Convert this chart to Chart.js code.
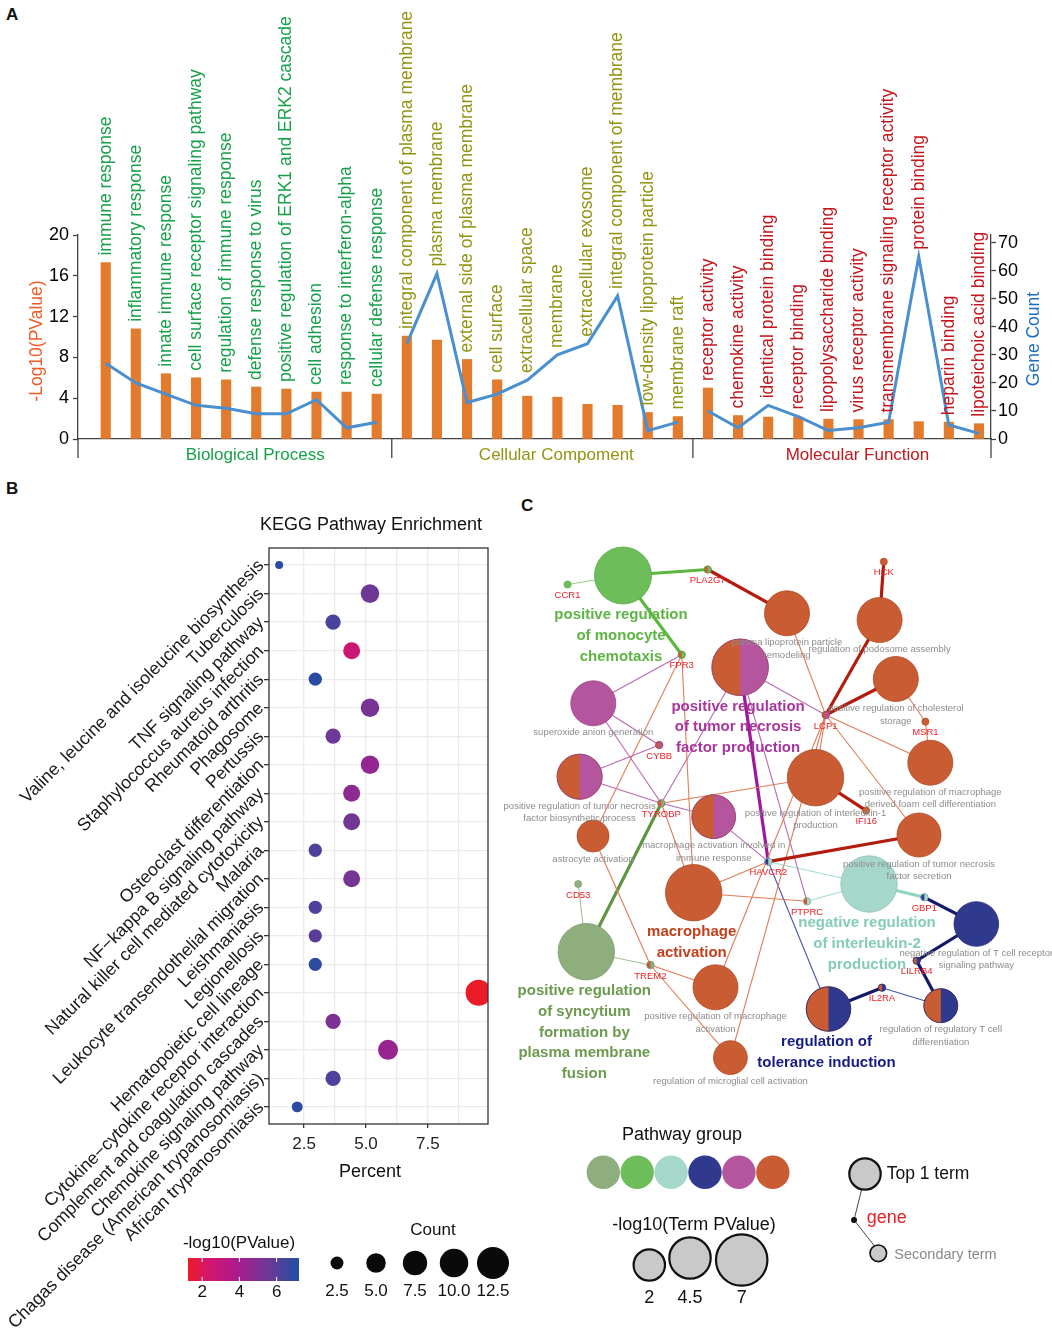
<!DOCTYPE html>
<html>
<head>
<meta charset="utf-8">
<title>GO / KEGG enrichment</title>
<script src="https://cdn.jsdelivr.net/npm/chart.js@4.4.1/dist/chart.umd.min.js"></script>
<style>
  html, body { margin: 0; padding: 0; background: #fff; }
  body { position: relative; width: 1052px; height: 1339px; overflow: hidden;
         font-family: "Liberation Sans", Arial, sans-serif; }
  canvas { position: absolute; }
  .tag { position: absolute; font-weight: bold; font-size: 17px; color: #111; }
</style>
</head>
<body>
<div class="tag" style="left:6px;top:5px">A</div>
<div class="tag" style="left:6px;top:479px">B</div>
<div class="tag" style="left:521px;top:496px">C</div>
<canvas id="goChart" width="1052" height="475" style="left:0;top:0"></canvas>
<canvas id="keggChart" width="520" height="859" style="left:0;top:480px"></canvas>
<canvas id="netChart" width="557" height="799" style="left:495px;top:540px"></canvas>
<script>
const FONT = '"Liberation Sans", Arial, Helvetica, sans-serif';
Chart.defaults.font.family = FONT;
Chart.defaults.animation = false;
Chart.defaults.events = [];
Chart.defaults.plugins.legend.display = false;
Chart.defaults.plugins.tooltip.enabled = false;

// ---------------- A : GO terms ----------------
const goTerms = [
  'immune response', 'inflammatory response', 'innate immune response',
  'cell surface receptor signaling pathway', 'regulation of immune response',
  'defense response to virus', 'positive regulation of ERK1 and ERK2 cascade',
  'cell adhesion', 'response to interferon-alpha', 'cellular defense response',
  'integral component of plasma membrane', 'plasma membrane', 'external side of plasma membrane',
  'cell surface', 'extracellular space', 'membrane', 'extracellular exosome',
  'integral component of membrane', 'low-density lipoprotein particle', 'membrane raft',
  'receptor activity', 'chemokine activity', 'identical protein binding', 'receptor binding',
  'lipopolysaccharide binding', 'virus receptor activity',
  'transmembrane signaling receptor activity', 'protein binding', 'heparin binding',
  'lipoteichoic acid binding'
];
const goCategories = ['Biological Process', 'Cellular Compoment', 'Molecular Function'];
const goCategorySize = [10, 10, 10];
const goLogP = [17.3, 10.8, 6.4, 6.0, 5.8, 5.1, 4.9, 4.6, 4.6, 4.4,
                10.1, 9.7, 7.8, 5.8, 4.2, 4.1, 3.4, 3.3, 2.6, 2.2,
                5.0, 2.3, 2.15, 2.15, 1.95, 1.9, 1.9, 1.7, 1.65, 1.5];
const goGeneCount = [27, 20, 16, 12, 11, 9, 9, 14, 4, 6,
                     34, 59, 13, 16, 21, 30, 34, 51, 3, 6,
                     10, 4, 12, 8, 3, 4, 6, 65, 5, 2];
const goPTicks = [0, 4, 8, 12, 16, 20];
const goCountTicks = [0, 10, 20, 30, 40, 50, 60, 70];

const goTextColors = ['#17a04a', '#939313', '#c3161c'];

const catStart = [];
let acc = 0;
goCategorySize.forEach(n => { catStart.push(acc); acc += n; });
function catOf(i) {
  let k = 0;
  while (k + 1 < catStart.length && i >= catStart[k + 1]) k++;
  return k;
}

const countLines = goCategories.map((c, k) => ({
  type: 'line',
  label: c,
  yAxisID: 'yCount',
  data: goGeneCount.slice(catStart[k], catStart[k] + goCategorySize[k])
    .map((v, j) => ({ x: catStart[k] + j, y: v })),
  borderColor: '#4a8fd0',
  borderWidth: 3,
  pointRadius: 0,
  tension: 0,
  order: 0
}));

const goDecor = {
  id: 'goDecor',
  afterDraw(chart) {
    const { ctx, chartArea: a, scales } = chart;
    const x = scales.x, yP = scales.yP, yC = scales.yCount;
    ctx.save();
    // axis stubs under the baseline and group dividers
    ctx.strokeStyle = '#444';
    ctx.lineWidth = 1.3;
    const stubs = [a.left, a.right];
    for (let k = 1; k < catStart.length; k++) {
      stubs.push((x.getPixelForValue(catStart[k] - 1) + x.getPixelForValue(catStart[k])) / 2);
    }
    stubs.forEach(px => {
      ctx.beginPath(); ctx.moveTo(px, a.bottom); ctx.lineTo(px, a.bottom + 19); ctx.stroke();
    });
    // rotated term names above each bar / line point
    ctx.font = '17.5px ' + FONT;
    ctx.textAlign = 'left';
    ctx.textBaseline = 'middle';
    goTerms.forEach((t, i) => {
      const top = Math.min(yP.getPixelForValue(goLogP[i]), yC.getPixelForValue(goGeneCount[i]));
      ctx.save();
      ctx.translate(x.getPixelForValue(i), top - 7);
      ctx.rotate(-Math.PI / 2);
      ctx.fillStyle = goTextColors[catOf(i)];
      ctx.fillText(t, 0, 0);
      ctx.restore();
    });
    // category names
    ctx.font = '17px ' + FONT;
    ctx.textAlign = 'center';
    goCategories.forEach((c, k) => {
      const mid = (x.getPixelForValue(catStart[k]) + x.getPixelForValue(catStart[k] + goCategorySize[k] - 1)) / 2;
      ctx.fillStyle = goTextColors[k];
      ctx.fillText(c, mid + 14, a.bottom + 16);
    });
    // axis titles
    ctx.font = '17.5px ' + FONT;
    const midY = (a.top + a.bottom) / 2;
    ctx.save(); ctx.translate(37, midY + 4); ctx.rotate(-Math.PI / 2);
    ctx.fillStyle = '#ef5a26'; ctx.fillText('-Log10(PValue)', 0, 0); ctx.restore();
    ctx.save(); ctx.translate(1034, midY + 2); ctx.rotate(-Math.PI / 2);
    ctx.fillStyle = '#1f6fc0'; ctx.fillText('Gene Count', 0, 0); ctx.restore();
    ctx.restore();
  }
};

new Chart(document.getElementById('goChart'), {
  type: 'bar',
  data: {
    datasets: [
      {
        label: '-Log10(PValue)',
        yAxisID: 'yP',
        data: goLogP.map((v, i) => ({ x: i, y: v })),
        backgroundColor: '#e27b2e',
        barThickness: 9.5,
        order: 1
      },
      ...countLines
    ]
  },
  options: {
    responsive: false,
    layout: { autoPadding: false, padding: { top: 235, left: 0, right: 0, bottom: 0 } },
    scales: {
      x: {
        type: 'linear', min: -0.92, max: 29.4, offset: false,
        ticks: { display: false },
        grid: { display: false },
        border: { display: true, color: '#444', width: 1.3 },
        afterFit: s => { s.height = 36; }
      },
      yP: {
        position: 'left', min: 0, max: 20,
        afterBuildTicks: s => { s.ticks = goPTicks.map(v => ({ value: v })); },
        ticks: { font: { size: 18 }, color: '#000', padding: 4 },
        grid: { drawOnChartArea: false, tickLength: 5, tickColor: '#444', tickWidth: 1.3 },
        border: { color: '#444', width: 1.3 },
        afterFit: s => { s.width = 78; }
      },
      yCount: {
        position: 'right', min: 0, max: 72.75,
        afterBuildTicks: s => { s.ticks = goCountTicks.map(v => ({ value: v })); },
        ticks: { font: { size: 18 }, color: '#000', padding: 2 },
        grid: { drawOnChartArea: false, tickLength: 5, tickColor: '#444', tickWidth: 1.3 },
        border: { color: '#444', width: 1.3 },
        afterFit: s => { s.width = 61; }
      }
    }
  },
  plugins: [goDecor]
});

// ---------------- B : KEGG dot plot ----------------
const keggTerms = [
  'Valine, leucine and isoleucine biosynthesis', 'Tuberculosis', 'TNF signaling pathway',
  'Staphylococcus aureus infection', 'Rheumatoid arthritis', 'Phagosome', 'Pertussis',
  'Osteoclast differentiation', 'NF\u2212kappa B signaling pathway',
  'Natural killer cell mediated cytotoxicity', 'Malaria',
  'Leukocyte transendothelial migration', 'Leishmaniasis', 'Legionellosis',
  'Hematopoietic cell lineage', 'Cytokine\u2212cytokine receptor interaction',
  'Complement and coagulation cascades', 'Chemokine signaling pathway',
  'Chagas disease (American trypanosomiasis)', 'African trypanosomiasis'
];
const keggPercent = [1.49, 5.16, 3.67, 4.42, 2.95, 5.16, 3.67, 5.16, 4.42, 4.42,
                     2.95, 4.42, 2.95, 2.95, 2.95, 9.55, 3.67, 5.89, 3.67, 2.22];
const keggCount = [2, 7, 5, 6, 4, 7, 5, 7, 6, 6, 4, 6, 4, 4, 4, 13, 5, 8, 5, 3];
const keggLogP = [7.0, 5.5, 6.3, 2.7, 7.0, 5.2, 5.5, 4.5, 4.7, 5.4,
                  6.2, 5.3, 6.2, 5.9, 6.9, 1.3, 5.1, 4.4, 6.2, 6.9];
const percentTicks = [2.5, 5.0, 7.5];
const pLegendTicks = [2, 4, 6];
const countLegend = [2.5, 5.0, 7.5, 10.0, 12.5];

const pStops = [[1.24, [236, 28, 36]], [2.3, [213, 21, 107]], [4.0, [167, 29, 142]],
                [5.5, [110, 56, 150]], [7.2, [31, 79, 162]]];
function pColor(v) {
  if (v <= pStops[0][0]) return 'rgb(' + pStops[0][1].join(',') + ')';
  for (let i = 1; i < pStops.length; i++) {
    if (v <= pStops[i][0]) {
      const t = (v - pStops[i - 1][0]) / (pStops[i][0] - pStops[i - 1][0]);
      const c = pStops[i - 1][1].map((c0, j) => Math.round(c0 + (pStops[i][1][j] - c0) * t));
      return 'rgb(' + c.join(',') + ')';
    }
  }
  return 'rgb(' + pStops[pStops.length - 1][1].join(',') + ')';
}
const keggRadius = c => Math.sqrt(14 * c - 12);
const legendRadius = c => Math.sqrt(21.4 * c - 11.5);
const minorPercent = percentTicks.map(v => v + 1.25);

const keggDecor = {
  id: 'keggDecor',
  afterDraw(chart) {
    const { ctx, chartArea: a, scales } = chart;
    ctx.save();
    ctx.strokeStyle = '#333';
    ctx.lineWidth = 1.3;
    ctx.strokeRect(a.left, a.top, a.right - a.left, a.bottom - a.top);
    ctx.fillStyle = '#111';
    ctx.font = '18px ' + FONT;
    ctx.textAlign = 'center';
    ctx.textBaseline = 'middle';
    ctx.fillText('KEGG Pathway Enrichment', 371, 45);
    ctx.fillText('Percent', 370, 692);
    // slanted row names
    ctx.font = '17.8px ' + FONT;
    ctx.textAlign = 'right';
    ctx.fillStyle = '#1a1a1a';
    keggTerms.forEach((t, i) => {
      const y = scales.y.getPixelForValue(i);
      ctx.save();
      ctx.translate(a.left - 8, y - 2);
      ctx.rotate(-Math.PI / 4);
      ctx.fillText(t, 0, 0);
      ctx.restore();
    });
    // colour bar legend
    const bx0 = 188, bx1 = 299, by0 = 778, by1 = 801;
    const vmin = pStops[0][0], vmax = pStops[pStops.length - 1][0];
    const g = ctx.createLinearGradient(bx0, 0, bx1, 0);
    pStops.forEach(s => g.addColorStop((s[0] - vmin) / (vmax - vmin), 'rgb(' + s[1].join(',') + ')'));
    ctx.fillStyle = g;
    ctx.fillRect(bx0, by0, bx1 - bx0, by1 - by0);
    ctx.strokeStyle = '#fff';
    ctx.lineWidth = 1;
    ctx.fillStyle = '#111';
    ctx.textAlign = 'center';
    ctx.font = '17px ' + FONT;
    pLegendTicks.forEach(v => {
      const px = bx0 + (v - vmin) / (vmax - vmin) * (bx1 - bx0);
      ctx.beginPath(); ctx.moveTo(px, by0); ctx.lineTo(px, by0 + 4); ctx.stroke();
      ctx.beginPath(); ctx.moveTo(px, by1 - 4); ctx.lineTo(px, by1); ctx.stroke();
      ctx.fillText(String(v), px, 812);
    });
    ctx.fillText('-log10(PValue)', 239, 763);
    // size legend
    ctx.fillText('Count', 433, 750);
    countLegend.forEach((c, i) => {
      const cx = 337 + i * 39;
      ctx.beginPath();
      ctx.arc(cx, 783, legendRadius(c), 0, Math.PI * 2);
      ctx.fillStyle = '#0a0a0a';
      ctx.fill();
      ctx.fillStyle = '#111';
      ctx.fillText(c.toFixed(1), cx, 811);
    });
    ctx.restore();
  }
};

new Chart(document.getElementById('keggChart'), {
  type: 'bubble',
  data: {
    datasets: [{
      label: 'KEGG',
      data: keggTerms.map((t, i) => ({ x: keggPercent[i], y: i, r: keggRadius(keggCount[i]) })),
      backgroundColor: keggLogP.map(pColor),
      borderWidth: 0
    }]
  },
  options: {
    responsive: false,
    layout: { autoPadding: false, padding: { top: 68, right: 32, left: 0, bottom: 0 } },
    scales: {
      x: {
        type: 'linear', min: 1.08, max: 9.93,
        afterBuildTicks: s => {
          s.ticks = percentTicks.concat(minorPercent).sort((p, q) => p - q).map(v => ({ value: v }));
        },
        ticks: {
          callback: v => percentTicks.includes(v) ? v.toFixed(1) : '',
          font: { size: 17 }, color: '#222', padding: 6, maxRotation: 0, autoSkip: false
        },
        grid: {
          color: '#ebebeb', lineWidth: 1.3, tickLength: 4,
          tickColor: c => (c.tick && percentTicks.includes(c.tick.value)) ? '#333' : 'rgba(0,0,0,0)'
        },
        border: { display: false },
        afterFit: s => { s.height = 215; }
      },
      y: {
        type: 'linear', reverse: true, min: -0.6, max: 19.6,
        afterBuildTicks: s => { s.ticks = keggTerms.map((t, i) => ({ value: i })); },
        ticks: { display: false },
        grid: { color: '#ebebeb', lineWidth: 1.3, tickLength: 5, tickColor: '#333' },
        border: { display: false },
        afterFit: s => { s.width = 269; }
      }
    }
  },
  plugins: [keggDecor]
});

// ---------------- C : term / gene network ----------------
const netGroupFill = ['#8fae7e', '#6dbe5b', '#a5d8cb', '#2f3a8f', '#b5559e', '#c95c33'];
const netGroupLine = ['#7c9b6b', '#58a847', '#8cc3b5', '#222b76', '#9a4386', '#ad4824'];
const netThick = ['#5f9545', '#5cb83c', '#8fd3c1', '#131a6a', '#a0189a', '#b31b0c'];
const netThin = ['#a3c094', '#96d184', '#a3dbcd', '#4953ad', '#b968b0', '#e07d56'];
const netTitle = ['#6c9a4f', '#5db544', '#84ccb7', '#161c85', '#a8369d', '#c4401b'];

const termIds = ['G1', 'O1', 'O2', 'M1', 'O3', 'M2', 'M3', 'O4', 'O5', 'M4',
                 'O6', 'O7', 'O8', 'T1', 'N1', 'S1', 'O9', 'N2', 'N3', 'O10'];
const termNames = [
  'positive regulation\nof monocyte\nchemotaxis',
  'plasma lipoprotein particle\nremodeling',
  'regulation of podosome assembly',
  'positive regulation\nof tumor necrosis\nfactor production',
  'positive regulation of cholesterol\nstorage',
  'superoxide anion generation',
  'positive regulation of tumor necrosis\nfactor biosynthetic process',
  'positive regulation of interleukin-1\nproduction',
  'positive regulation of macrophage\nderived foam cell differentiation',
  'macrophage activation involved in\nimmune response',
  'positive regulation of tumor necrosis\nfactor secretion',
  'astrocyte activation',
  'macrophage\nactivation',
  'negative regulation\nof interleukin-2\nproduction',
  'negative regulation of T cell receptor\nsignaling pathway',
  'positive regulation\nof syncytium\nformation by\nplasma membrane\nfusion',
  'positive regulation of macrophage\nactivation',
  'regulation of\ntolerance induction',
  'regulation of regulatory T cell\ndifferentiation',
  'regulation of microglial cell activation'
];
// layout position of each term (network layout units)
const termX = [103, 267, 359.6, 220.1, 375.8, 73.3, 59.6, 295.5, 410.3, 193.7,
               399, 73, 173.7, 349, 456.3, 66.3, 195.5, 308.5, 420.8, 210.4];
const termY = [35.5, 73.3, 80, 127.3, 139, 163.3, 236.7, 237.7, 222.7, 276.7,
               295, 296, 352.7, 344, 384, 411.7, 447.3, 469, 465.7, 517.6];
const termLogP = [8.4, 5.4, 5.4, 8.25, 5.4, 5.4, 5.4, 8.25, 5.4, 5.05,
                  5.15, 2.15, 8.25, 8.25, 5.3, 8.25, 5.4, 5.25, 2.6, 2.6];
const termGroups = [[1], [5], [5], [5, 4], [5], [4], [5, 4], [5], [5], [5, 4],
                    [5], [5], [5], [2], [3], [0], [5], [5, 3], [5, 3], [5]];
const termTop = [1, 0, 0, 1, 0, 0, 0, 0, 0, 0, 0, 0, 1, 1, 0, 1, 0, 1, 0, 0];

const geneNames = ['CCR1', 'PLA2G7', 'FPR3', 'HCK', 'LCP1', 'MSR1', 'CYBB', 'TYROBP',
                   'IFI16', 'HAVCR2', 'CD53', 'PTPRC', 'GBP1', 'LILRB4', 'IL2RA', 'TREM2'];
const geneX = [47.5, 187.7, 161.7, 363.8, 305.7, 405.4, 139.2, 141.3,
               346.2, 248.3, 58.2, 287, 404.3, 396.7, 362, 130.4];
const geneY = [44.5, 29.5, 114.7, 21.7, 175, 181.7, 205, 263.3,
               270.7, 321.7, 344, 361.3, 357.3, 420.7, 447.7, 425];
const geneGroups = [[1], [5, 1], [5, 1], [5], [5, 4], [5], [5, 4], [5, 0],
                    [5], [3, 2], [0], [5, 2], [3, 2], [5, 3], [5, 3], [5, 0]];

// [term, gene, group, thick]
const edges = [
  ['G1', 'CCR1', 1, 0], ['G1', 'PLA2G7', 1, 1], ['G1', 'FPR3', 1, 1],
  ['O1', 'PLA2G7', 5, 1], ['O2', 'HCK', 5, 1], ['O2', 'LCP1', 5, 1], ['O3', 'LCP1', 5, 1],
  ['O4', 'IFI16', 5, 1], ['O6', 'HAVCR2', 5, 1],
  ['O1', 'LCP1', 5, 0], ['O4', 'LCP1', 5, 0], ['O5', 'LCP1', 5, 0], ['O6', 'LCP1', 5, 0],
  ['O3', 'MSR1', 5, 0], ['O5', 'MSR1', 5, 0], ['O7', 'FPR3', 5, 0], ['O8', 'FPR3', 5, 0],
  ['O4', 'TYROBP', 5, 0], ['O8', 'TYROBP', 5, 0], ['O7', 'TREM2', 5, 0], ['O9', 'TREM2', 5, 0],
  ['O10', 'TREM2', 5, 0], ['O8', 'HAVCR2', 5, 0], ['O8', 'PTPRC', 5, 0], ['O9', 'LCP1', 5, 0],
  ['O10', 'LCP1', 5, 0],
  ['M1', 'HAVCR2', 4, 1], ['M1', 'LCP1', 4, 0], ['M1', 'TYROBP', 4, 0], ['M1', 'PTPRC', 4, 0],
  ['M2', 'FPR3', 4, 0], ['M2', 'CYBB', 4, 0], ['M2', 'TYROBP', 4, 0], ['M3', 'CYBB', 4, 0],
  ['M3', 'TYROBP', 4, 0], ['M4', 'TYROBP', 4, 0], ['M4', 'HAVCR2', 4, 0],
  ['S1', 'TYROBP', 0, 1], ['S1', 'CD53', 0, 0], ['S1', 'TREM2', 0, 0],
  ['T1', 'GBP1', 2, 1], ['T1', 'HAVCR2', 2, 0], ['T1', 'PTPRC', 2, 0],
  ['N1', 'GBP1', 3, 1], ['N1', 'LILRB4', 3, 1], ['N3', 'LILRB4', 3, 1], ['N2', 'IL2RA', 3, 1],
  ['N2', 'HAVCR2', 3, 0], ['N3', 'IL2RA', 3, 0]
];
const termPValueLegend = [2, 4.5, 7];

const termRadius = p => 11.7 + 2 * p;
const geneRadius = 3.6;

function nodePos(id) {
  const t = termIds.indexOf(id);
  if (t >= 0) return { x: termX[t], y: termY[t] };
  const g = geneNames.indexOf(id);
  return { x: geneX[g], y: geneY[g] };
}

const edgeSets = edges.map(e => ({
  type: 'scatter',
  label: e[0] + '-' + e[1],
  data: [nodePos(e[0]), nodePos(e[1])],
  showLine: true,
  pointRadius: 0,
  borderColor: e[3] ? netThick[e[2]] : netThin[e[2]],
  borderWidth: e[3] ? 3.2 : 1.1,
  order: 2
}));

function halfOverlay(ctx, el, groups) {
  if (groups.length < 2) return;
  const r = el.options.radius;
  ctx.beginPath();
  ctx.moveTo(el.x, el.y - r);
  ctx.arc(el.x, el.y, r, -Math.PI / 2, Math.PI / 2);
  ctx.closePath();
  ctx.fillStyle = netGroupFill[groups[1]];
  ctx.fill();
  ctx.beginPath();
  ctx.arc(el.x, el.y, r, 0, Math.PI * 2);
  ctx.strokeStyle = netGroupLine[groups[1]];
  ctx.lineWidth = 0.8;
  ctx.stroke();
}

const netDecor = {
  id: 'netDecor',
  afterDatasetsDraw(chart) {
    const { ctx } = chart;
    const geneMeta = chart.getDatasetMeta(0);
    const termMeta = chart.getDatasetMeta(1);
    ctx.save();
    geneMeta.data.forEach((el, i) => halfOverlay(ctx, el, geneGroups[i]));
    termMeta.data.forEach((el, i) => halfOverlay(ctx, el, termGroups[i]));
    ctx.textAlign = 'center';
    ctx.textBaseline = 'middle';
    // secondary term labels
    ctx.font = '9.5px ' + FONT;
    ctx.fillStyle = '#8c8c8c';
    termMeta.data.forEach((el, i) => {
      if (termTop[i]) return;
      const r = el.options.radius;
      termNames[i].split('\n').forEach((line, j) => ctx.fillText(line, el.x, el.y + r + 7 + j * 12.5));
    });
    // gene labels
    ctx.font = '9.5px ' + FONT;
    ctx.fillStyle = '#ee1c25';
    geneMeta.data.forEach((el, i) => ctx.fillText(geneNames[i], el.x, el.y + 11));
    // top term labels
    ctx.font = 'bold 15px ' + FONT;
    termMeta.data.forEach((el, i) => {
      if (!termTop[i]) return;
      const r = el.options.radius;
      const gs = termGroups[i];
      ctx.fillStyle = netTitle[gs[gs.length - 1]];
      termNames[i].split('\n').forEach((line, j) => ctx.fillText(line, el.x - 2, el.y + r + 11 + j * 20.8));
    });
    ctx.restore();
  },
  afterDraw(chart) {
    const { ctx } = chart;
    ctx.save();
    ctx.textBaseline = 'middle';
    ctx.textAlign = 'center';
    ctx.fillStyle = '#111';
    ctx.font = '18px ' + FONT;
    ctx.fillText('Pathway group', 187, 595);
    netGroupFill.forEach((c, i) => {
      ctx.beginPath();
      ctx.arc(108.3 + i * 33.9, 632.3, 16.7, 0, Math.PI * 2);
      ctx.fillStyle = c;
      ctx.fill();
    });
    ctx.fillStyle = '#111';
    ctx.fillText('-log10(Term PValue)', 199, 685);
    const lx = [154.3, 195, 246.7], ly = [725, 718, 720];
    termPValueLegend.forEach((p, i) => {
      ctx.beginPath();
      ctx.arc(lx[i], ly[i], termRadius(p), 0, Math.PI * 2);
      ctx.fillStyle = '#c9c9c9';
      ctx.fill();
      ctx.strokeStyle = '#111';
      ctx.lineWidth = 2.2;
      ctx.stroke();
      ctx.fillStyle = '#111';
      ctx.fillText(String(p), lx[i], 758);
    });
    // node kind key
    ctx.strokeStyle = '#444';
    ctx.lineWidth = 1;
    ctx.beginPath();
    ctx.moveTo(366.7, 649.3); ctx.lineTo(359, 680); ctx.lineTo(380, 706.7);
    ctx.stroke();
    ctx.beginPath(); ctx.arc(370, 634, 15.7, 0, Math.PI * 2);
    ctx.fillStyle = '#c9c9c9'; ctx.fill();
    ctx.strokeStyle = '#111'; ctx.lineWidth = 2.2; ctx.stroke();
    ctx.beginPath(); ctx.arc(383.3, 713.3, 8.3, 0, Math.PI * 2);
    ctx.fillStyle = '#c9c9c9'; ctx.fill();
    ctx.lineWidth = 1.6; ctx.stroke();
    ctx.beginPath(); ctx.arc(359, 680, 3, 0, Math.PI * 2);
    ctx.fillStyle = '#111'; ctx.fill();
    ctx.textAlign = 'left';
    ctx.font = '17.5px ' + FONT;
    ctx.fillText('Top 1 term', 391.7, 634);
    ctx.fillStyle = '#ee1c25';
    ctx.font = '18px ' + FONT;
    ctx.fillText('gene', 371.7, 678);
    ctx.fillStyle = '#888';
    ctx.font = '14.5px ' + FONT;
    ctx.fillText('Secondary term', 399.3, 715);
    ctx.restore();
  }
};

new Chart(document.getElementById('netChart'), {
  type: 'bubble',
  data: {
    datasets: [
      {
        label: 'genes',
        data: geneNames.map((g, i) => ({ x: geneX[i], y: geneY[i], r: geneRadius })),
        backgroundColor: geneGroups.map(gs => netGroupFill[gs[0]]),
        borderColor: geneGroups.map(gs => netGroupLine[gs[0]]),
        borderWidth: 0.6,
        order: 0
      },
      {
        label: 'terms',
        data: termIds.map((t, i) => ({ x: termX[i], y: termY[i], r: termRadius(termLogP[i]) })),
        backgroundColor: termGroups.map(gs => netGroupFill[gs[0]]),
        borderColor: termGroups.map(gs => netGroupLine[gs[0]]),
        borderWidth: 0.8,
        order: 1
      },
      ...edgeSets
    ]
  },
  options: {
    responsive: false,
    layout: { autoPadding: false, padding: 0 },
    scales: {
      x: { type: 'linear', min: -25, max: 532, display: false },
      y: { type: 'linear', min: 0, max: 799, reverse: true, display: false }
    }
  },
  plugins: [netDecor]
});
</script>
</body>
</html>
